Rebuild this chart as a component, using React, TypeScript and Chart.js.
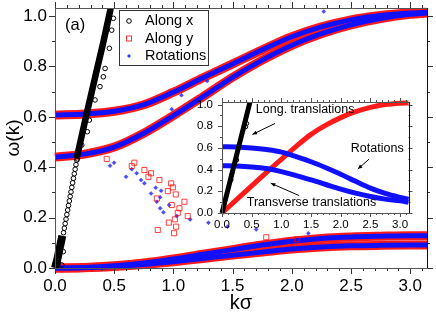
import React, { useEffect, useRef } from "react";
import { Chart, registerables } from "chart.js";

Chart.register(...registerables);

const FONT = "'Liberation Sans', Arial, Helvetica, sans-serif";

// ---------- main panel data (k sigma, omega) ----------
const K = [0, 0.25, 0.5, 0.75, 1.0, 1.25, 1.5, 1.75, 2.0, 2.25, 2.5, 2.75, 3.0, 3.1416];
const BAND_A = [0.607, 0.611, 0.622, 0.648, 0.698, 0.755, 0.81, 0.866, 0.918, 0.957, 0.985, 1.002, 1.012, 1.015];
const BAND_B = [0.44, 0.452, 0.48, 0.535, 0.605, 0.68, 0.757, 0.825, 0.884, 0.93, 0.965, 0.99, 1.007, 1.012];
const LOW_A = [0, 0.002, 0.009, 0.02, 0.036, 0.055, 0.073, 0.091, 0.106, 0.117, 0.123, 0.126, 0.128, 0.128];
const LOW_B = [0, 0.001, 0.006, 0.014, 0.025, 0.038, 0.051, 0.063, 0.075, 0.083, 0.088, 0.09, 0.091, 0.091];

const ALONG_X_DENSE = [[0.183, 0.435], [0.265, 0.607], [0.35, 0.78], [0.41, 0.9], [0.47, 1.03]];
const ALONG_X_ORIGIN = [[0.0, 0.0], [0.02, 0.035], [0.04, 0.08], [0.062, 0.128]];
const ALONG_X_POINTS = [
  [0.072, 0.14], [0.079, 0.158], [0.086, 0.176], [0.093, 0.194], [0.1, 0.212], [0.107, 0.23],
  [0.114, 0.248], [0.121, 0.266], [0.128, 0.284], [0.135, 0.302], [0.142, 0.32], [0.149, 0.338],
  [0.156, 0.356], [0.163, 0.374], [0.17, 0.392], [0.177, 0.41], [0.184, 0.428],
  [0.493, 0.991], [0.479, 0.944], [0.459, 0.872], [0.423, 0.792], [0.408, 0.759], [0.38, 0.72],
  [0.338, 0.667], [0.29, 0.587], [0.273, 0.541], [0.226, 0.488], [0.189, 0.433],
  [0.057, 0.012], [0.07, 0.065], [0.03, 0.02],
];
const ALONG_Y_POINTS = [
  [0.437, 0.433], [0.648, 0.405], [0.67, 0.418], [0.755, 0.389], [0.789, 0.362], [0.811, 0.376],
  [0.882, 0.349], [0.86, 0.276], [0.981, 0.336], [0.995, 0.32], [0.953, 0.305], [1.02, 0.292],
  [0.986, 0.25], [1.093, 0.263], [1.051, 0.237], [1.037, 0.219], [1.012, 0.193], [0.961, 0.18],
  [1.121, 0.206], [1.023, 0.164], [1.006, 0.138], [0.868, 0.151], [1.784, 0.122], [2.045, 0.114],
];
const ROTATION_POINTS = [
  [0.465, 0.406], [0.499, 0.418], [0.6, 0.362], [0.648, 0.392], [0.69, 0.376], [0.727, 0.349],
  [0.755, 0.336], [0.811, 0.296], [0.851, 0.319], [0.896, 0.307], [0.86, 0.263], [0.888, 0.281],
  [0.888, 0.237], [0.916, 0.221], [0.964, 0.25], [1.028, 0.206], [1.141, 0.193], [1.296, 0.18],
  [1.457, 0.164], [1.699, 0.153], [2.14, 0.138], [0.986, 0.63], [1.068, 0.686], [1.285, 0.742],
  [2.27, 1.018],
];
const X_TICKS = [0, 0.5, 1.0, 1.5, 2.0, 2.5, 3.0];
const Y_TICKS = [0, 0.2, 0.4, 0.6, 0.8, 1.0];

// ---------- inset data ----------
const INSET_RED = [0, 0.125, 0.25, 0.375, 0.495, 0.615, 0.725, 0.81, 0.88, 0.935, 0.975, 1.0, 1.012, 1.015];
const INSET_BLUE_A = [0.611, 0.609, 0.6, 0.585, 0.562, 0.52, 0.473, 0.418, 0.358, 0.292, 0.229, 0.18, 0.143, 0.125];
const INSET_BLUE_B = [0.437, 0.434, 0.425, 0.41, 0.382, 0.345, 0.306, 0.263, 0.22, 0.183, 0.152, 0.128, 0.113, 0.1];
const INSET_BLACK = [[0, 0], [0.12, 0.26], [0.23, 0.5], [0.35, 0.76], [0.47, 1.02]];
const INSET_CIRCLES = [[0.417, 0.826], [0.4, 0.795], [0.163, 0.351], [0.152, 0.306], [0.248, 0.489]];
const INSET_Y_TICKS = [0, 0.2, 0.4, 0.6, 0.8, 1.0];
const INSET_NOTES = [
  { text: "Long. translations", k: 0.57, w: 0.955 },
  { text: "Rotations", k: 2.17, w: 0.59 },
  { text: "Transverse translations", k: 0.417, w: 0.1 },
];
const INSET_ARROWS = [
  [0.894, 0.826, 0.511, 0.725],
  [2.479, 0.498, 2.288, 0.406],
  [1.298, 0.161, 0.821, 0.275],
];

const xy = (xs: number[], ys: number[]) => xs.map((x, i) => ({ x, y: ys[i] }));
const pairs = (p: number[][]) => p.map(([x, y]) => ({ x, y }));

const curve = (data: any, color: string, width: number, order: number, clip: any = false) => ({
  data,
  showLine: true,
  borderColor: color,
  borderWidth: width,
  pointRadius: 0,
  cubicInterpolationMode: "monotone",
  fill: false,
  clip,
  order,
});

function drawTicks(ctx: CanvasRenderingContext2D, chart: any, xMax: number, yStep: number, yMajorEvery: number, big: number, small: number, xcolor: string) {
  const a = chart.chartArea;
  const xs = chart.scales.x;
  const ys = chart.scales.y;
  ctx.save();
  ctx.lineWidth = 1;
  ctx.strokeStyle = xcolor;
  ctx.beginPath();
  for (let i = 0; i <= Math.round(xMax * 10); i++) {
    const px = Math.round(xs.getPixelForValue(i / 10)) + 0.5;
    const len = i % 5 === 0 ? big : small;
    ctx.moveTo(px, a.bottom); ctx.lineTo(px, a.bottom + len);
    ctx.moveTo(px, a.top); ctx.lineTo(px, a.top - len);
  }
  for (let i = 0; i <= 10; i++) {
    const py = Math.round(ys.getPixelForValue(i * yStep)) + 0.5;
    const len = i % yMajorEvery === 0 ? big : small;
    ctx.moveTo(a.left, py); ctx.lineTo(a.left - len, py);
    ctx.moveTo(a.right, py); ctx.lineTo(a.right + len, py);
  }
  ctx.stroke();
  ctx.strokeStyle = "#555";
  ctx.strokeRect(Math.round(a.left) + 0.5, Math.round(a.top) + 0.5, Math.round(a.right - a.left), Math.round(a.bottom - a.top));
  ctx.strokeStyle = "#111";
  ctx.beginPath();
  ctx.moveTo(Math.round(a.right) + 0.5, a.top);
  ctx.lineTo(Math.round(a.right) + 0.5, a.bottom);
  ctx.stroke();
  ctx.restore();
}

const mainDecor = {
  id: "mainDecor",
  afterDatasetsDraw(chart: any) {
    drawTicks(chart.ctx, chart, 3.1, 0.1, 2, 6, 3, "#333");
  },
  afterDraw(chart: any) {
    const ctx = chart.ctx as CanvasRenderingContext2D;
    ctx.save();
    // legend box
    ctx.fillStyle = "#fff";
    ctx.fillRect(119.5, 10.5, 89, 55);
    ctx.strokeStyle = "#333";
    ctx.lineWidth = 1;
    ctx.strokeRect(119.5, 10.5, 89, 55);
    // markers
    ctx.strokeStyle = "#000";
    ctx.beginPath();
    ctx.arc(129, 21, 2.3, 0, Math.PI * 2);
    ctx.stroke();
    ctx.strokeStyle = "rgba(255,0,0,0.8)";
    ctx.strokeRect(126.5, 36, 5, 5);
    ctx.fillStyle = "rgba(20,20,255,0.85)";
    ctx.beginPath();
    ctx.moveTo(129, 54); ctx.lineTo(131, 56); ctx.lineTo(129, 58); ctx.lineTo(127, 56); ctx.closePath();
    ctx.fill();
    ctx.fillStyle = "#000";
    ctx.font = `14.5px ${FONT}`;
    ctx.textBaseline = "middle";
    ctx.textAlign = "left";
    ctx.fillText("Along x", 145, 21);
    ctx.fillText("Along y", 145, 38.5);
    ctx.fillText("Rotations", 145, 56);
    ctx.font = `16.5px ${FONT}`;
    ctx.fillText("(a)", 65, 25);
    ctx.restore();
  },
};

function arrow(ctx: CanvasRenderingContext2D, x1: number, y1: number, x2: number, y2: number) {
  const ang = Math.atan2(y2 - y1, x2 - x1);
  ctx.beginPath();
  ctx.moveTo(x1, y1);
  ctx.lineTo(x2, y2);
  ctx.stroke();
  const h = 5;
  ctx.beginPath();
  ctx.moveTo(x2, y2);
  ctx.lineTo(x2 - h * Math.cos(ang - 0.4), y2 - h * Math.sin(ang - 0.4));
  ctx.lineTo(x2 - h * Math.cos(ang + 0.4), y2 - h * Math.sin(ang + 0.4));
  ctx.closePath();
  ctx.fill();
}

const insetDecor = {
  id: "insetDecor",
  beforeDatasetsDraw(chart: any) {
    const a = chart.chartArea;
    const ctx = chart.ctx;
    ctx.save();
    ctx.fillStyle = "#fff";
    ctx.fillRect(a.left, a.top, a.right - a.left, a.bottom - a.top);
    ctx.restore();
  },
  afterDatasetsDraw(chart: any) {
    drawTicks(chart.ctx, chart, 3.1, 0.1, 2, 4, 2, "#555");
  },
  afterDraw(chart: any) {
    const ctx = chart.ctx as CanvasRenderingContext2D;
    const xs = chart.scales.x;
    const ys = chart.scales.y;
    ctx.save();
    ctx.fillStyle = "#000";
    ctx.strokeStyle = "#000";
    ctx.lineWidth = 1;
    ctx.font = `12.5px ${FONT}`;
    ctx.textBaseline = "middle";
    ctx.textAlign = "left";
    for (const n of INSET_NOTES) {
      ctx.fillText(n.text, xs.getPixelForValue(n.k), ys.getPixelForValue(n.w));
    }
    for (const [k1, w1, k2, w2] of INSET_ARROWS) {
      arrow(ctx, xs.getPixelForValue(k1), ys.getPixelForValue(w1), xs.getPixelForValue(k2), ys.getPixelForValue(w2));
    }
    ctx.restore();
  },
};

export default function App() {
  const mainRef = useRef<HTMLCanvasElement>(null);
  const insetRef = useRef<HTMLCanvasElement>(null);

  useEffect(() => {
    const fitY = (w: number) => (s: any) => { s.width = w; s.paddingTop = 0; s.paddingBottom = 0; };
    const fitX = (h: number) => (s: any) => { s.height = h; s.paddingLeft = 0; s.paddingRight = 0; };

    const main = new Chart(mainRef.current as HTMLCanvasElement, {
      type: "scatter",
      data: {
        datasets: [
          curve(pairs(ALONG_X_DENSE), "#000", 6.5, 0, true) as any,
          curve(pairs(ALONG_X_ORIGIN), "#000", 8, 0) as any,
          {
            label: "Along x",
            data: pairs(ALONG_X_POINTS),
            pointStyle: "circle",
            pointRadius: 2.3,
            borderWidth: 1,
            borderColor: "#000",
            backgroundColor: "rgba(0,0,0,0)",
            order: 0,
            clip: false,
          },
          {
            label: "Along y",
            data: pairs(ALONG_Y_POINTS),
            pointStyle: "rect",
            pointRadius: 3.6,
            borderWidth: 1,
            borderColor: "rgba(255,0,0,0.75)",
            backgroundColor: "rgba(0,0,0,0)",
            order: 1,
          },
          {
            label: "Rotations",
            data: pairs(ROTATION_POINTS),
            pointStyle: "rectRot",
            pointRadius: 2,
            borderWidth: 0.5,
            borderColor: "rgba(30,30,255,0.8)",
            backgroundColor: "rgba(30,30,255,0.8)",
            order: 1,
          },
          curve(xy(K, BAND_A), "#1010ff", 5, 2) as any,
          curve(xy(K, BAND_B), "#1010ff", 5, 2) as any,
          curve(xy(K, LOW_A), "#1010ff", 5, 2) as any,
          curve(xy(K, LOW_B), "#1010ff", 5, 2) as any,
          curve(xy(K, BAND_A), "#ff1a1a", 9, 3) as any,
          curve(xy(K, BAND_B), "#ff1a1a", 9, 3) as any,
          curve(xy(K, LOW_A), "#ff1a1a", 9, 3) as any,
          curve(xy(K, LOW_B), "#ff1a1a", 9, 3) as any,
        ],
      },
      options: {
        animation: false,
        responsive: false,
        events: [],
        layout: { padding: { top: 8, right: 9, left: 0, bottom: 0 } },
        plugins: { legend: { display: false }, tooltip: { enabled: false } },
        scales: {
          x: {
            type: "linear",
            min: 0,
            max: Math.PI,
            afterFit: fitX(45),
            afterBuildTicks: (s: any) => { s.ticks = X_TICKS.map((value) => ({ value })); },
            grid: { display: false, drawTicks: false },
            border: { display: false },
            ticks: {
              padding: 10,
              color: "#000",
              font: { family: FONT, size: 17, lineHeight: 1 },
              callback: (v: any) => Number(v).toFixed(1),
            },
            title: {
              display: true,
              text: "kσ",
              color: "#000",
              font: { family: FONT, size: 20, lineHeight: 1 },
              padding: { top: 0, bottom: 0 },
            },
          },
          y: {
            type: "linear",
            min: 0,
            max: 1.032,
            afterFit: fitY(55),
            afterBuildTicks: (s: any) => { s.ticks = Y_TICKS.map((value) => ({ value })); },
            grid: { display: false, drawTicks: false },
            border: { display: false },
            ticks: {
              padding: 8,
              color: "#000",
              font: { family: FONT, size: 17, lineHeight: 1 },
              callback: (v: any) => Number(v).toFixed(1),
            },
            title: {
              display: true,
              text: "ω(k)",
              color: "#000",
              font: { family: FONT, size: 19, lineHeight: 1 },
              padding: { top: 4, bottom: 0 },
            },
          },
        },
      },
      plugins: [mainDecor],
    } as any);

    const inset = new Chart(insetRef.current as HTMLCanvasElement, {
      type: "scatter",
      data: {
        datasets: [
          curve(pairs(INSET_BLACK), "#000", 5, 0) as any,
          {
            data: pairs(INSET_CIRCLES),
            pointStyle: "circle",
            pointRadius: 2,
            borderWidth: 1,
            borderColor: "#000",
            backgroundColor: "#fff",
            order: 0,
          },
          curve(xy(K, INSET_BLUE_A), "#1010ff", 5, 1) as any,
          curve(xy(K, INSET_BLUE_B), "#1010ff", 5, 1) as any,
          curve(xy(K, INSET_RED), "#ff1a1a", 5, 2) as any,
        ],
      },
      options: {
        animation: false,
        responsive: false,
        events: [],
        layout: { padding: { top: 10, right: 7.5, left: 0, bottom: 0 } },
        plugins: { legend: { display: false }, tooltip: { enabled: false } },
        scales: {
          x: {
            type: "linear",
            min: 0,
            max: Math.PI,
            afterFit: fitX(29),
            afterBuildTicks: (s: any) => { s.ticks = X_TICKS.map((value) => ({ value })); },
            grid: { display: false, drawTicks: false },
            border: { display: false },
            ticks: {
              padding: 6,
              color: "#000",
              font: { family: FONT, size: 11.5, lineHeight: 1 },
              callback: (v: any) => Number(v).toFixed(1),
            },
          },
          y: {
            type: "linear",
            min: 0,
            max: 1.024,
            afterFit: fitY(32),
            afterBuildTicks: (s: any) => { s.ticks = INSET_Y_TICKS.map((value) => ({ value })); },
            grid: { display: false, drawTicks: false },
            border: { display: false },
            ticks: {
              padding: 9,
              color: "#000",
              font: { family: FONT, size: 11.5, lineHeight: 1 },
              callback: (v: any) => Number(v).toFixed(1),
            },
          },
        },
      },
      plugins: [insetDecor],
    } as any);

    return () => {
      main.destroy();
      inset.destroy();
    };
  }, []);

  return (
    <div style={{ position: "absolute", left: 0, top: 0, width: 436, height: 313, background: "#fff" }}>
      <canvas ref={mainRef} width={436} height={313} style={{ position: "absolute", left: 0, top: 0, width: 436, height: 313 }} />
      <canvas ref={insetRef} width={226} height={150} style={{ position: "absolute", left: 190, top: 92, width: 226, height: 150 }} />
    </div>
  );
}
